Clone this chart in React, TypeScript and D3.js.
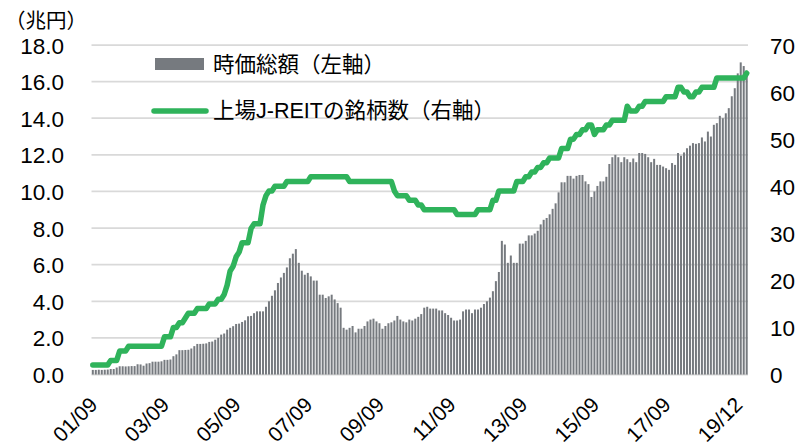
import React from "react";
import * as d3 from "d3";

// monthly, 2001/09 .. 2019/12
const marketCap = [
  0.25, 0.25, 0.26, 0.25, 0.26, 0.27, 0.3, 0.3, 0.38, 0.45,
  0.45, 0.44, 0.45, 0.46, 0.46, 0.56, 0.55, 0.48, 0.6, 0.62,
  0.7, 0.7, 0.7, 0.72, 0.8, 0.8, 0.82, 1.0, 1.1, 1.33,
  1.33, 1.34, 1.35, 1.42, 1.55, 1.67, 1.67, 1.68, 1.7, 1.78,
  1.8, 1.9, 2.0, 2.18, 2.24, 2.45, 2.55, 2.64, 2.76, 2.78,
  2.87, 2.96, 3.18, 3.2, 3.35, 3.45, 3.45, 3.45, 3.7, 4.0,
  4.3, 4.6, 5.0, 5.3, 5.55, 5.85, 6.35, 6.6, 6.85, 6.1,
  5.67, 5.45, 5.55, 5.36, 5.13, 5.13, 4.36, 4.36, 4.18, 4.27,
  4.36, 4.1, 3.9, 3.65, 2.55, 2.45, 2.55, 2.65, 2.3, 2.5,
  2.5, 2.65, 2.9, 3.0, 3.05, 2.9, 2.8, 2.5, 2.65, 2.8,
  2.85, 2.95, 3.2, 3.0, 2.9, 2.85, 3.0, 2.95, 3.05, 3.15,
  3.3, 3.65, 3.7, 3.6, 3.6, 3.6, 3.5, 3.5, 3.35, 3.25,
  3.1, 2.95, 2.95, 3.0, 3.45, 3.55, 3.55, 3.35, 3.55, 3.55,
  3.65, 3.85, 4.0, 4.2, 4.55, 5.1, 5.6, 7.3, 7.1, 6.1,
  6.5, 6.1, 6.1, 7.15, 7.15, 7.3, 7.6, 7.6, 7.7, 7.85,
  8.2, 8.45, 8.55, 8.75, 9.05, 9.35, 9.95, 10.5, 10.5, 10.85,
  10.85, 10.7, 10.85, 10.9, 10.9, 10.55, 10.4, 9.7, 10.0, 10.3,
  10.55, 10.55, 10.8, 11.5, 11.87, 12.0, 11.87, 11.6, 11.87, 11.76,
  11.6, 11.8, 11.6, 12.1, 12.1, 12.05, 11.87, 11.6, 11.78, 11.45,
  11.45, 11.36, 11.27, 11.18, 11.55, 11.45, 12.1, 11.95, 12.13, 12.36,
  12.5, 12.64, 12.6, 12.64, 12.95, 12.73, 13.27, 13.0, 13.64, 13.73,
  14.13, 14.0, 14.27, 14.55, 15.2, 15.64, 16.45, 17.05, 16.85, 16.6,
];

const reitCount = [
  2, 2, 2, 2, 2, 2, 3, 3, 3, 5,
  5, 5, 6, 6, 6, 6, 6, 6, 6, 6,
  6, 6, 6, 6, 8, 8, 8, 10, 10, 11,
  11, 12, 13, 13, 13, 14, 14, 14, 14, 15,
  15, 15, 16, 16, 17, 19, 22, 23, 25, 26,
  28, 28, 28, 31, 32, 32, 32, 36, 38, 39,
  39, 40, 40, 40, 40, 41, 41, 41, 41, 41,
  41, 41, 41, 42, 42, 42, 42, 42, 42, 42,
  42, 42, 42, 42, 42, 42, 41, 41, 41, 41,
  41, 41, 41, 41, 41, 41, 41, 41, 41, 41,
  41, 39, 38, 38, 38, 38, 37, 37, 37, 36,
  36, 35, 35, 35, 35, 35, 35, 35, 35, 35,
  35, 35, 34, 34, 34, 34, 34, 34, 34, 35,
  35, 35, 35, 35, 37, 37, 39, 39, 39, 39,
  39, 39, 41, 41, 41, 42, 42, 43, 43, 44,
  44, 45, 45, 46, 46, 46, 46, 48, 48, 48,
  50, 50, 51, 51, 52, 52, 53, 53, 51, 52,
  52, 52, 53, 53, 54, 54, 54, 54, 54, 57,
  56, 56, 56, 57, 57, 58, 58, 58, 58, 58,
  58, 58, 59, 59, 59, 59, 61, 61, 60, 60,
  59, 59, 60, 60, 61, 61, 61, 61, 61, 63,
  63, 63, 63, 63, 63, 63, 63, 63, 63, 64,
];

const tickIndex = [0, 24, 48, 72, 96, 120, 144, 168, 192, 216];
const tickLabels = ["01/09", "03/09", "05/09", "07/09", "09/09", "11/09", "13/09", "15/09", "17/09", "19/12"];
const leftTicks = [0, 2, 4, 6, 8, 10, 12, 14, 16, 18];
const rightTicks = [0, 10, 20, 30, 40, 50, 60, 70];

const W = 800;
const H = 445;
const left = 91.5;
const right = 748;
const top = 45;
const bottom = 374.5;

const font = "'Liberation Sans', Arial, 'Noto Sans CJK JP', sans-serif";
const barColor = "#767a7f";
const lineColor = "#2fb35b";
const gridColor = "#d9d9d9";

export default function App() {
  const idx = d3.range(marketCap.length);
  const x = d3.scaleBand<number>().domain(idx).range([left, right]).paddingInner(0.33).paddingOuter(0.1);
  const yL = d3.scaleLinear().domain([0, 18]).range([bottom, top]);
  const yR = d3.scaleLinear().domain([0, 70]).range([bottom, top]);
  const cx = (i: number) => (x(i) as number) + x.bandwidth() / 2;

  const linePath = d3
    .line<number>()
    .x((d, i) => cx(i))
    .y((d) => yR(d))(reitCount) as string;

  return (
    <svg width={W} height={H} style={{ position: "absolute", left: 0, top: 0, background: "#fff" }} fontFamily={font}>
      {leftTicks.map((t) => (
        <line key={"g" + t} x1={left} x2={right} y1={yL(t)} y2={yL(t)} stroke={gridColor} strokeWidth={1.75} />
      ))}
      {marketCap.map((v, i) => (
        <rect key={"b" + i} x={x(i)} y={yL(v)} width={x.bandwidth()} height={yL(0) - yL(v)} fill={barColor} />
      ))}
      <path d={linePath} fill="none" stroke={lineColor} strokeWidth={5.5} strokeLinejoin="round" strokeLinecap="round" />

      {leftTicks.map((t) => (
        <text key={"l" + t} x={64} y={yL(t) + 1} textAnchor="end" dominantBaseline="central" fontSize={22.5} fill="#000">
          {t.toFixed(1)}
        </text>
      ))}
      {rightTicks.map((t) => (
        <text key={"r" + t} x={770} y={yR(t) + 1} textAnchor="start" dominantBaseline="central" fontSize={22.5} fill="#000">
          {t}
        </text>
      ))}
      <text x={5} y={20} fontSize={20.5} dominantBaseline="central" fill="#000">（兆円）</text>

      {tickIndex.map((ti, k) => (
        <text
          key={"x" + ti}
          transform={`translate(${cx(ti) + 6},${406}) rotate(-45)`}
          textAnchor="end"
          fontSize={21}
          fill="#000"
        >
          {tickLabels[k]}
        </text>
      ))}

      <rect x={155} y={58} width={49} height={12} fill={barColor} />
      <text x={213} y={65} fontSize={21.5} dominantBaseline="central" fill="#000">時価総額（左軸）</text>
      <line x1={154} x2={206} y1={111} y2={111} stroke={lineColor} strokeWidth={5.5} strokeLinecap="round" />
      <text x={213} y={111} fontSize={21.5} dominantBaseline="central" fill="#000">上場J-REITの銘柄数（右軸）</text>
    </svg>
  );
}
